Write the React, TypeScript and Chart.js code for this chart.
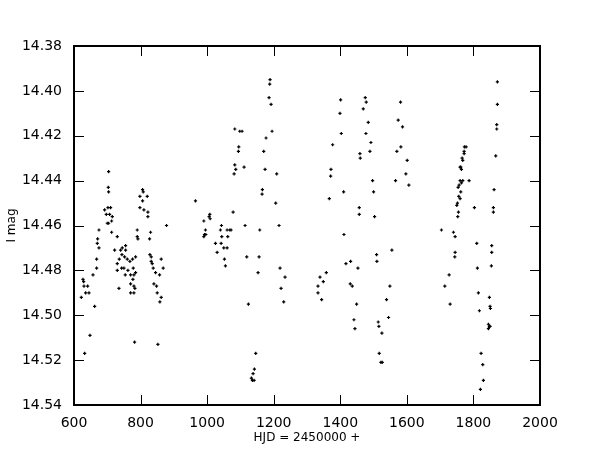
import React, { useEffect, useRef } from "react";
import { Chart, registerables } from "chart.js";

Chart.register(...registerables);

const xTicks = [600, 800, 1000, 1200, 1400, 1600, 1800, 2000];
const yTicks = [14.38, 14.4, 14.42, 14.44, 14.46, 14.48, 14.5, 14.52, 14.54];

const hjdSeason1 = [704, 703, 704, 702, 710, 692, 697, 707, 715, 700, 704, 713, 713, 675, 671, 670, 675, 668, 668, 657, 627, 629, 630, 641, 635, 645, 622, 662, 648, 632];
const magSeason1 = [14.436, 14.443, 14.445, 14.452, 14.452, 14.453, 14.455, 14.455, 14.456, 14.459, 14.459, 14.458, 14.463, 14.462, 14.466, 14.468, 14.47, 14.475, 14.479, 14.482, 14.484, 14.485, 14.487, 14.487, 14.49, 14.49, 14.492, 14.496, 14.509, 14.517];

const hjdSeason2 = [730, 722, 740, 755, 745, 755, 744, 752, 760, 768, 776, 736, 730, 743, 750, 762, 778, 785, 730, 754, 770, 780, 777, 770, 780, 783, 735, 770, 780, 782];
const magSeason2 = [14.465, 14.471, 14.471, 14.471, 14.47, 14.469, 14.473, 14.474, 14.475, 14.476, 14.475, 14.475, 14.477, 14.479, 14.479, 14.48, 14.479, 14.481, 14.48, 14.482, 14.482, 14.482, 14.484, 14.486, 14.487, 14.488, 14.488, 14.49, 14.49, 14.512];

const hjdSeason3 = [806, 808, 798, 820, 806, 798, 810, 822, 822, 790, 830, 790, 792, 827, 878, 828, 832, 785, 832, 835, 838, 845, 862, 868, 857, 840, 848, 850, 862, 858, 852];
const magSeason3 = [14.444, 14.445, 14.447, 14.447, 14.449, 14.452, 14.453, 14.454, 14.456, 14.462, 14.463, 14.465, 14.466, 14.466, 14.46, 14.473, 14.474, 14.474, 14.476, 14.477, 14.479, 14.481, 14.475, 14.479, 14.482, 14.486, 14.487, 14.49, 14.492, 14.494, 14.513];

const hjdSeason4 = [965, 1008, 1009, 1006, 990, 995, 992, 996, 990, 1078, 1043, 1040, 1044, 1042, 1060, 1062, 1060, 1025, 1030, 1050, 1052, 1055, 1068, 1072, 1114, 1158, 1216, 1119, 1156, 1153, 1219, 1234, 1222, 1230, 1124, 1146, 1142, 1138, 1133, 1136, 1141, 1189, 1188, 1186, 1192, 1083, 1098, 1105, 1195, 1177, 1095, 1094, 1170, 1083, 1086, 1081, 1111, 1174, 1209, 1166, 1165, 1206];
const magSeason4 = [14.449, 14.455, 14.457, 14.456, 14.458, 14.462, 14.464, 14.464, 14.465, 14.454, 14.46, 14.462, 14.465, 14.468, 14.462, 14.465, 14.47, 14.468, 14.472, 14.47, 14.475, 14.478, 14.462, 14.462, 14.46, 14.462, 14.46, 14.474, 14.474, 14.481, 14.479, 14.483, 14.488, 14.494, 14.495, 14.517, 14.524, 14.526, 14.528, 14.529, 14.529, 14.395, 14.397, 14.403, 14.406, 14.417, 14.418, 14.418, 14.418, 14.421, 14.425, 14.427, 14.427, 14.433, 14.435, 14.437, 14.434, 14.435, 14.437, 14.444, 14.446, 14.45];

const hjdSeason5 = [1401, 1475, 1478, 1469, 1581, 1399, 1484, 1574, 1587, 1403, 1477, 1492, 1377, 1489, 1459, 1460, 1582, 1570, 1601, 1372, 1371, 1497, 1566, 1597, 1606, 1410, 1500, 1367, 1457, 1457, 1503, 1411, 1509, 1510, 1555, 1417, 1431, 1453, 1358, 1339, 1349, 1333, 1333, 1344, 1430, 1436, 1549, 1539, 1449, 1545, 1441, 1444, 1514, 1516, 1525, 1517, 1522, 1526];
const magSeason5 = [14.404, 14.403, 14.405, 14.408, 14.405, 14.41, 14.414, 14.413, 14.416, 14.419, 14.419, 14.423, 14.424, 14.427, 14.428, 14.43, 14.425, 14.427, 14.431, 14.435, 14.438, 14.44, 14.44, 14.437, 14.442, 14.445, 14.445, 14.448, 14.452, 14.455, 14.456, 14.464, 14.473, 14.476, 14.471, 14.477, 14.476, 14.479, 14.481, 14.483, 14.485, 14.487, 14.49, 14.493, 14.486, 14.487, 14.487, 14.493, 14.495, 14.501, 14.502, 14.506, 14.503, 14.505, 14.508, 14.517, 14.521, 14.521];

const hjdSeason6 = [1872, 1872, 1870, 1870, 1867, 1773, 1778, 1772, 1772, 1766, 1768, 1760, 1764, 1762, 1760, 1768, 1764, 1787, 1757, 1754, 1762, 1756, 1760, 1750, 1752, 1803, 1862, 1860, 1860, 1755, 1753, 1704, 1740, 1745, 1810, 1855, 1855, 1745, 1744, 1812, 1854, 1727, 1714, 1815, 1848, 1850, 1851, 1730, 1818, 1845, 1850, 1845, 1848, 1823, 1828, 1830, 1821];
const magSeason6 = [14.396, 14.406, 14.415, 14.417, 14.429, 14.425, 14.425, 14.427, 14.428, 14.43, 14.431, 14.434, 14.435, 14.434, 14.44, 14.44, 14.441, 14.44, 14.442, 14.443, 14.445, 14.447, 14.448, 14.451, 14.45, 14.452, 14.444, 14.452, 14.454, 14.454, 14.456, 14.462, 14.463, 14.465, 14.468, 14.469, 14.472, 14.472, 14.474, 14.479, 14.478, 14.482, 14.487, 14.49, 14.492, 14.496, 14.497, 14.495, 14.498, 14.504, 14.505, 14.506, 14.505, 14.517, 14.522, 14.529, 14.533];

const hjd = [...hjdSeason1, ...hjdSeason2, ...hjdSeason3, ...hjdSeason4, ...hjdSeason5, ...hjdSeason6];
const imag = [...magSeason1, ...magSeason2, ...magSeason3, ...magSeason4, ...magSeason5, ...magSeason6];

const frameTicks = {
  id: "frameTicks",
  afterDraw(chart: any) {
    const { ctx, chartArea: a, scales } = chart;
    const x = scales.x;
    const y = scales.y;
    const len = 10;
    ctx.save();
    ctx.strokeStyle = "#000";
    ctx.lineWidth = 1;
    ctx.beginPath();
    xTicks.forEach((v) => {
      const px = Math.round(x.getPixelForValue(v)) + 0.5;
      ctx.moveTo(px, a.bottom);
      ctx.lineTo(px, a.bottom - len);
      ctx.moveTo(px, a.top);
      ctx.lineTo(px, a.top + len);
    });
    yTicks.forEach((v) => {
      const py = Math.round(y.getPixelForValue(v)) + 0.5;
      ctx.moveTo(a.left, py);
      ctx.lineTo(a.left + len, py);
      ctx.moveTo(a.right, py);
      ctx.lineTo(a.right - len, py);
    });
    ctx.stroke();
    ctx.lineWidth = 2;
    ctx.strokeRect(a.left, a.top, a.right - a.left, a.bottom - a.top);
    ctx.restore();
  },
};

export default function App() {
  const ref = useRef<HTMLCanvasElement>(null);
  useEffect(() => {
    document.body.style.margin = "0";
    Chart.defaults.font.family = "'DejaVu Sans', sans-serif";
    Chart.defaults.color = "#000";
    const chart = new Chart(ref.current!, {
      type: "scatter",
      data: {
        datasets: [
          {
            data: hjd.map((v, i) => ({ x: v, y: imag[i] })),
            pointStyle: "cross",
            pointRadius: 1.6,
            pointBorderWidth: 1.2,
            borderColor: "#000",
            backgroundColor: "#000",
          },
        ],
      },
      options: {
        animation: false,
        responsive: true,
        maintainAspectRatio: false,
        layout: { padding: { top: 46, right: 60, bottom: 0, left: 0 } },
        plugins: { legend: { display: false }, tooltip: { enabled: false } },
        scales: {
          x: {
            type: "linear",
            min: 600,
            max: 2000,
            grid: { display: false, drawTicks: false },
            border: { display: false },
            afterBuildTicks: (s: any) => {
              s.ticks = xTicks.map((v) => ({ value: v }));
            },
            afterFit: (s: any) => {
              s.height = 46;
            },
            ticks: {
              font: { size: 14 },
              padding: 10,
              maxRotation: 0,
              autoSkip: false,
              callback: (v: any) => String(v),
            },
            title: {
              display: true,
              text: "HJD = 2450000 +",
              font: { size: 12 },
              padding: { top: 0, bottom: 6 },
            },
          },
          y: {
            type: "linear",
            reverse: true,
            min: 14.38,
            max: 14.54,
            grid: { display: false, drawTicks: false },
            border: { display: false },
            afterBuildTicks: (s: any) => {
              s.ticks = yTicks.map((v) => ({ value: v }));
            },
            afterFit: (s: any) => {
              s.width = 74;
            },
            ticks: {
              font: { size: 14 },
              padding: 12,
              autoSkip: false,
              callback: (v: any) => Number(v).toFixed(2),
            },
            title: {
              display: true,
              text: "I mag",
              font: { size: 12 },
              padding: { top: 5, bottom: 0 },
            },
          },
        },
      },
      plugins: [frameTicks],
    });
    return () => chart.destroy();
  }, []);
  return (
    <div style={{ position: "absolute", left: 0, top: 0, width: 600, height: 451, background: "#fff" }}>
      <canvas ref={ref} />
    </div>
  );
}
